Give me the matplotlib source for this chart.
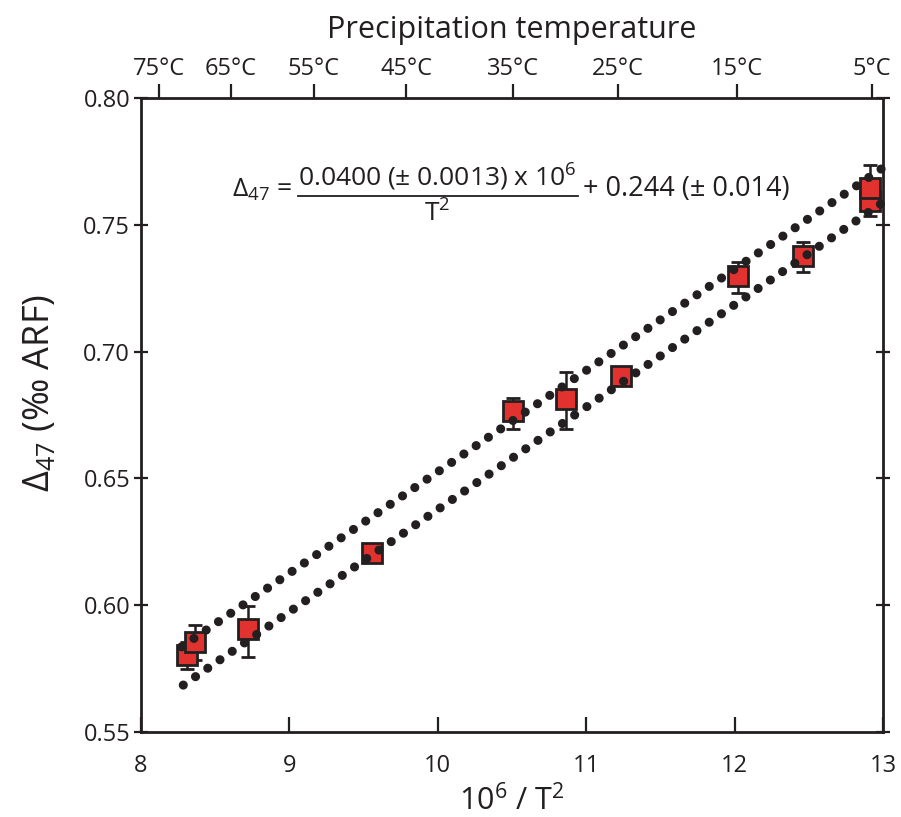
import matplotlib
matplotlib.use("Agg")
import matplotlib.pyplot as plt
from matplotlib.lines import Line2D

plt.rcParams['font.family'] = ['Open Sans', 'DejaVu Sans']
plt.rcParams['mathtext.default'] = 'regular'

# measured points: 10^6/T^2 and D47 with asymmetric errors
inv_t2 = [8.313, 8.364, 8.718, 9.557, 10.51, 10.864, 11.235, 12.02, 12.458, 12.91, 12.91]
d47 = [0.5802, 0.5855, 0.5906, 0.6205, 0.6764, 0.6813, 0.6905, 0.7298, 0.7377, 0.7592, 0.7645]
err_lo = [0.0054, 0.0071, 0.0109, 0.003, 0.0069, 0.0118, 0.003, 0.0067, 0.0063, 0.0057, 0.005]
err_hi = [0.0054, 0.0067, 0.0091, 0.003, 0.0052, 0.0108, 0.003, 0.0057, 0.0056, 0.005, 0.0092]

# the two dotted fit lines (start and end points)
upper_x = [8.274, 12.995]
upper_y = [0.5836, 0.7723]
lower_x = [8.285, 12.991]
lower_y = [0.5685, 0.7585]

# top axis: precipitation temperature
temp_pos = [8.12, 8.605, 9.163, 9.789, 10.504, 11.216, 12.013, 12.926]
temp_labels = ['75°C', '65°C', '55°C', '45°C', '35°C', '25°C', '15°C', '5°C']

ink = '#231F20'
red = '#E2322F'

fig = plt.figure(figsize=(9.01, 8.17), dpi=100)
ax = fig.add_axes([141/901, 1-732/817, (883-141)/901, (732-98)/817])

dots = (0, (0.001, 1.62))
ax.plot(upper_x, upper_y, color=ink, lw=6.6, ls=dots,
        dash_capstyle='round', zorder=5, clip_on=False)
ax.plot(lower_x, lower_y, color=ink, lw=6.6, ls=dots,
        dash_capstyle='round', zorder=5, clip_on=False)

for i in range(len(inv_t2)):
    ax.errorbar(inv_t2[i], d47[i], yerr=[[err_lo[i]], [err_hi[i]]], fmt='s',
                ms=15, mfc=red, mec=ink, mew=2, ecolor=ink, elinewidth=1.8,
                capsize=4.7, capthick=1.8, zorder=3+i*0.01)

ax.set_xlim(8, 13)
ax.set_ylim(0.55, 0.80)
ax.set_xticks([8, 9, 10, 11, 12, 13])
ax.set_yticks([0.55, 0.60, 0.65, 0.70, 0.75, 0.80])
ax.set_yticklabels(['0.55', '0.60', '0.65', '0.70', '0.75', '0.80'])

for s in ax.spines.values():
    s.set_linewidth(2)
    s.set_color(ink)

ax.tick_params(axis='y', which='both', direction='inout', length=9.5, width=1.6,
               colors=ink, labelsize=17, pad=3, right=True)
ax.tick_params(axis='x', direction='in', length=11, width=1.6, colors=ink,
               labelsize=17, pad=16)

top = ax.secondary_xaxis('top')
top.set_xticks(temp_pos)
top.set_xticklabels(temp_labels)
top.tick_params(direction='out', length=10, width=1.6, colors=ink, labelsize=17, pad=2)
top.spines['top'].set_visible(False)
top.set_xlabel('Precipitation temperature', fontsize=22, labelpad=14, color=ink)

ax.set_xlabel('10$^6$ / T$^2$', fontsize=22, labelpad=5, color=ink)
ax.set_ylabel('$\\Delta_{47}$ (‰ ARF)', fontsize=26, color=ink)
ax.yaxis.set_label_coords(-0.112, 0.535)

# calibration equation, built from pieces in figure pixels
W, H = 901, 817
fig.text(292/W, 1-190/H, '$\\Delta_{47}$ =', fontsize=19, ha='right', va='center', color=ink)
fig.text(437/W, 1-177/H, '0.0400 (± 0.0013) x 10$^6$', fontsize=19, ha='center', va='center', color=ink)
fig.add_artist(Line2D([298/W, 578/W], [1-196/H, 1-196/H], color=ink, lw=1.3))
fig.text(437/W, 1-214/H, 'T$^2$', fontsize=19, ha='center', va='center', color=ink)
fig.text(583/W, 1-189/H, '+ 0.244 (± 0.014)', fontsize=19.5, ha='left', va='center', color=ink)

fig.savefig('out.png', dpi=100)
